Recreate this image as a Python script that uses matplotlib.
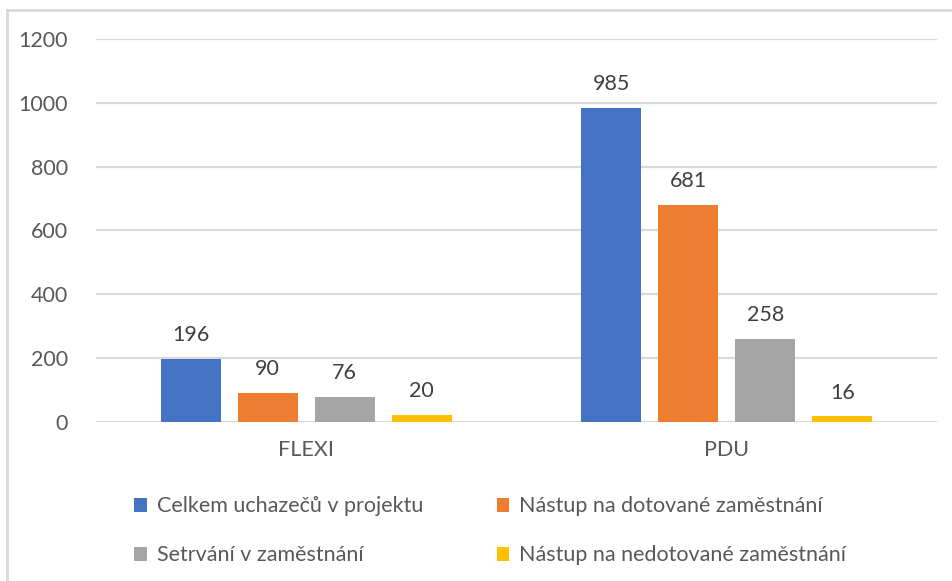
import numpy as np
import matplotlib
matplotlib.use("Agg")
import matplotlib.pyplot as plt
from matplotlib.lines import Line2D

# data
skupiny = ["FLEXI", "PDU"]
serie = ["Celkem uchazečů v projektu", "Nástup na dotované zaměstnání",
         "Setrvání v zaměstnání", "Nástup na nedotované zaměstnání"]
celkem = [196, 985]
dotovane = [90, 681]
setrvani = [76, 258]
nedotovane = [20, 16]
barvy = ["#4472C4", "#ED7D31", "#A5A5A5", "#FFC000"]

plt.rcParams["font.family"] = ["Lato", "DejaVu Sans"]
FS = 15.5

fig = plt.figure(figsize=(9.53, 5.81), dpi=100)
W, H = 953, 581
ax = fig.add_axes([96 / W, 1 - 421.5 / H, (937 - 96) / W, (421.5 - 39.3) / H])

x = np.arange(len(skupiny))
sirka = 0.1427
krok = 0.1831
hodnoty = [celkem, dotovane, setrvani, nedotovane]
handles = []
for i, (vals, c, nazev) in enumerate(zip(hodnoty, barvy, serie)):
    pos = x + (i - 1.5) * krok
    bars = ax.bar(pos, vals, sirka, color=c, label=nazev, zorder=3)
    handles.append(bars)
    for b, v in zip(bars, vals):
        ax.annotate(str(v), (b.get_x() + b.get_width() / 2, v),
                    xytext=(0, 10), textcoords="offset points",
                    ha="center", va="bottom", fontsize=FS, color="#404040")

ax.set_xlim(-0.5, 1.5)
ax.set_ylim(0, 1200)
ax.set_yticks(np.arange(0, 1201, 200))
ax.set_xticks(x)
ax.set_xticklabels(skupiny)
ax.grid(axis="y", color="#d9d9d9", linewidth=1.6, zorder=0)
for s in ax.spines.values():
    s.set_visible(False)
ax.tick_params(length=0, labelsize=FS, colors="#595959")
ax.tick_params(axis="y", pad=20)
ax.tick_params(axis="x", pad=13)

# legenda - radkove poradi
poradi = [0, 2, 1, 3]
ax.legend([handles[i] for i in poradi], [serie[i] for i in poradi],
          ncol=2, loc="upper left", bbox_to_anchor=(115 / W, 1 - 477 / H),
          bbox_transform=fig.transFigure, frameon=False, fontsize=FS,
          labelcolor="#595959", handlelength=0.6, handleheight=0.6,
          handletextpad=0.45, columnspacing=3.4, labelspacing=1.35)

# ramecek
fig.add_artist(Line2D([7 / W, 7 / W], [0, 1 - 10 / H], color="#d9d9d9", linewidth=2))
fig.add_artist(Line2D([7 / W, 1], [1 - 10 / H, 1 - 10 / H], color="#d9d9d9", linewidth=2))

fig.savefig("out.png", dpi=100)
